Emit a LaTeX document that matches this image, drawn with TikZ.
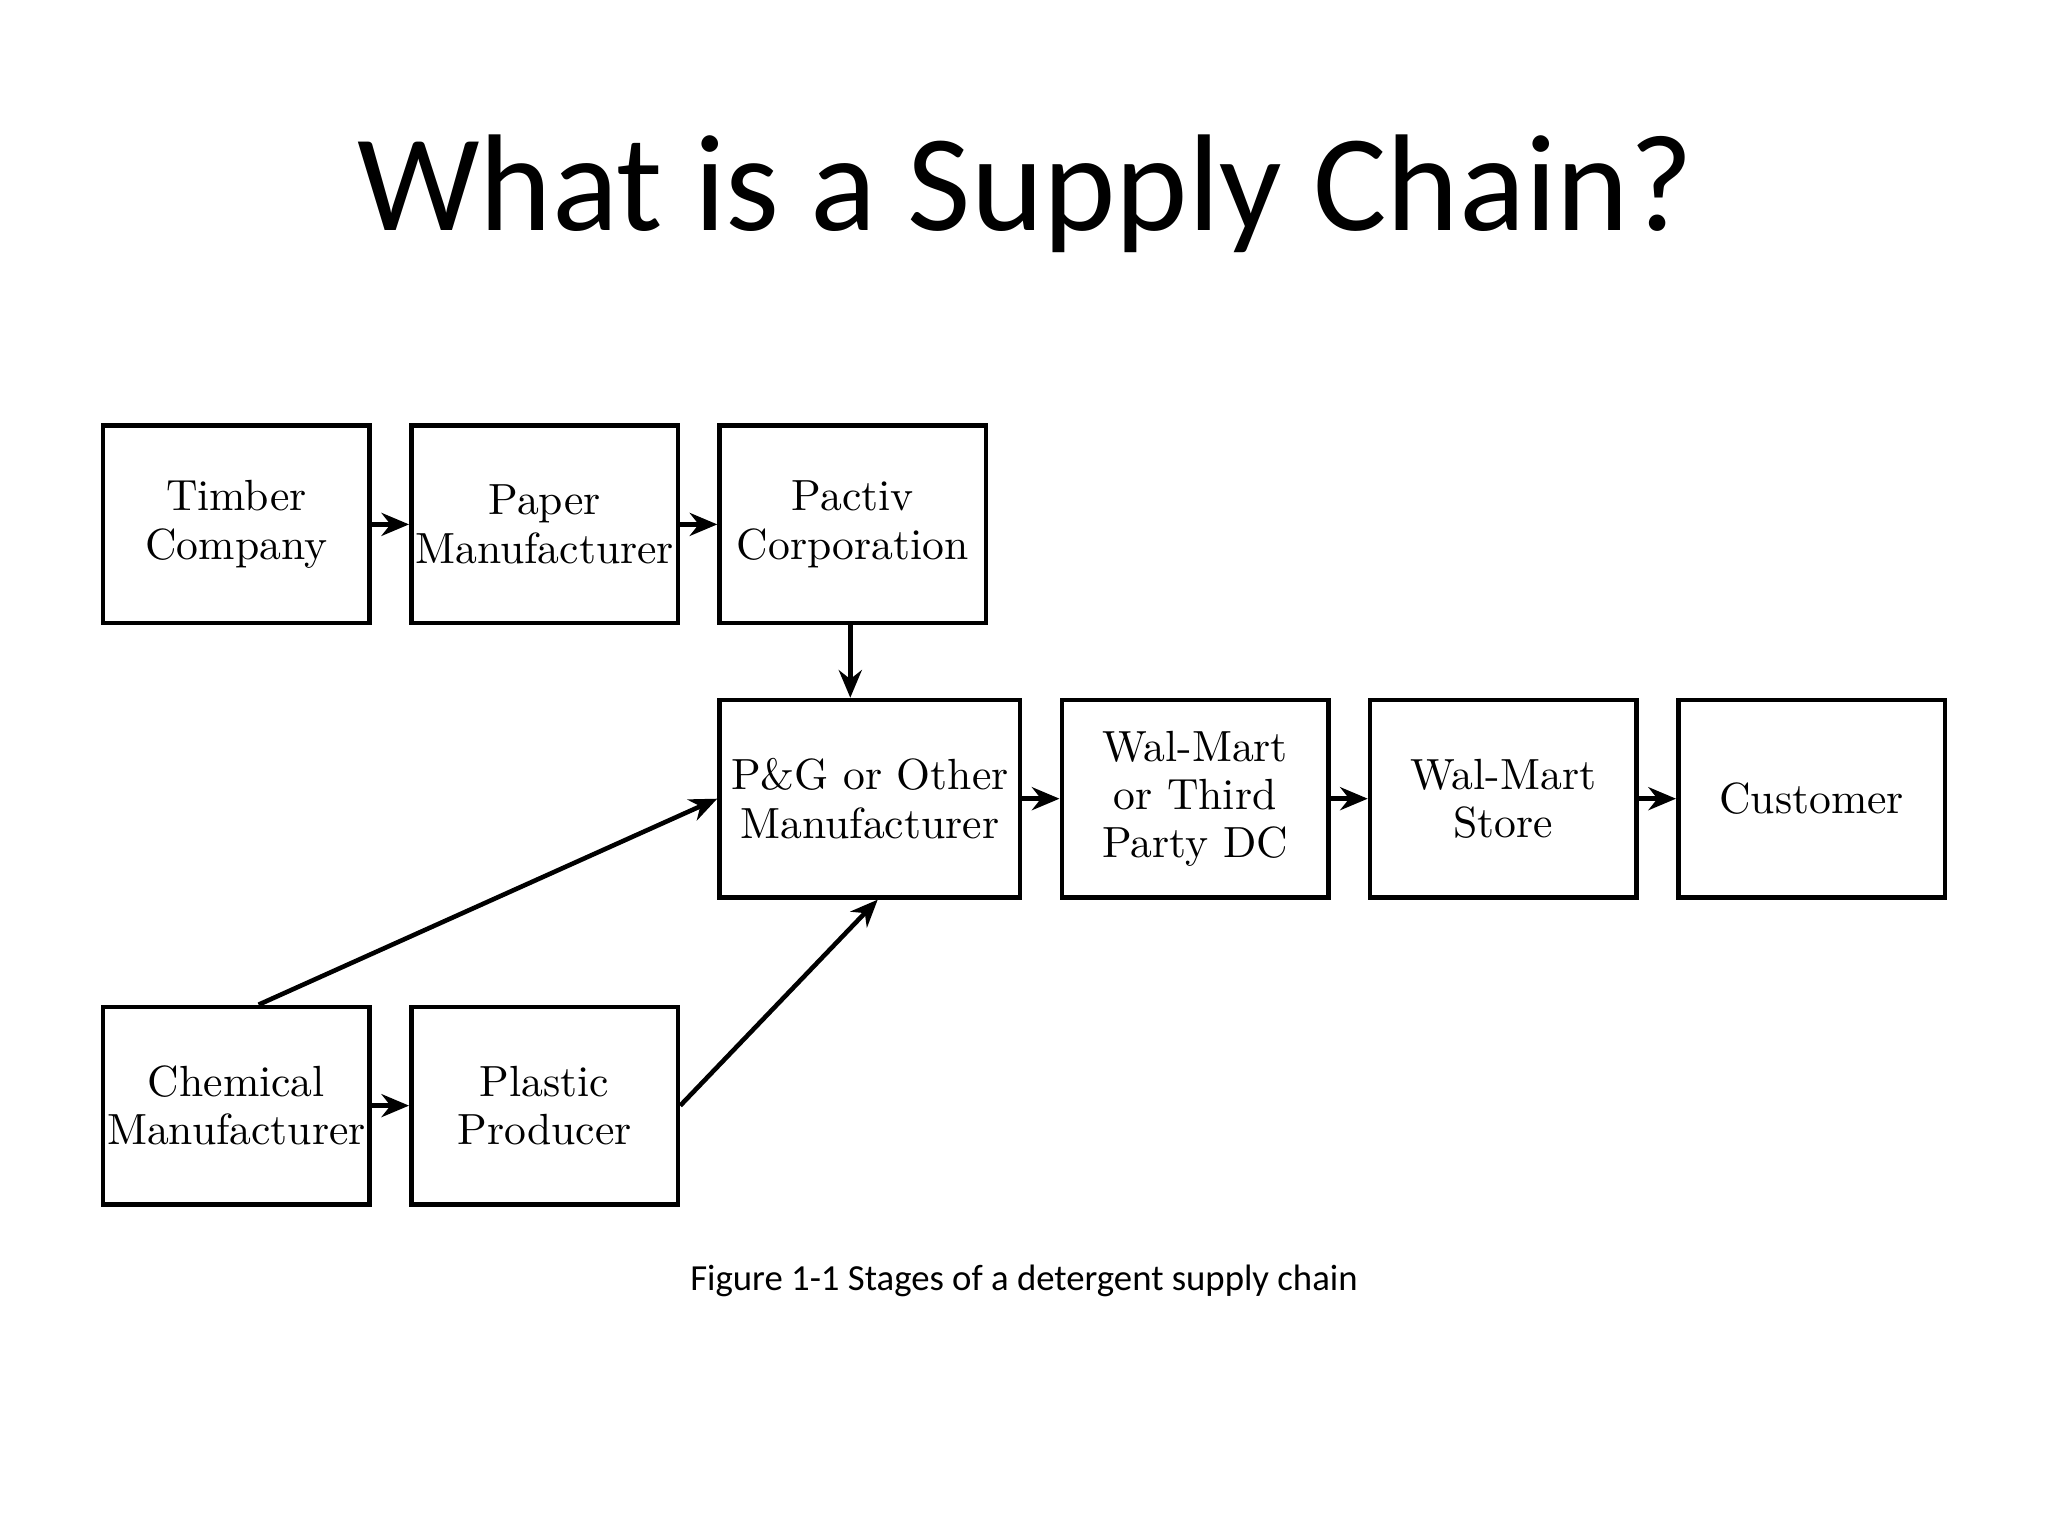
\documentclass[tikz,border=0pt]{standalone}
\usepackage{fontspec}
\newfontfamily\carlitofont{Carlito}
\usetikzlibrary{arrows.meta}
\begin{document}
\begin{tikzpicture}[x=0.01cm,y=-0.01cm,
 box/.style={draw,line width=1pt,minimum width=2.04cm,minimum height=1.51cm,inner sep=0pt,align=center,font=\fontsize{9.5}{10.5}\selectfont},
 arr/.style={line width=1pt,-{Stealth[length=6pt,width=5pt]}}]
\useasboundingbox (0,0) rectangle (1568,1176);
\node[font=\carlitofont\fontsize{30}{36}\selectfont] (title) at (785,148) {What is a Supply Chain?};
\node[box] (timber) at (181,401.5) {Timber\\Company};
\node[box] (paper) at (417,401.5) {Paper\\Manufacturer};
\node[box] (pactiv) at (653,401.5) {Pactiv\\Corporation};
\node[box,minimum width=2.3cm] (pg) at (666,611.5) {P\&G or Other\\Manufacturer};
\node[box] (dc) at (915,611.5) {Wal-Mart\\or Third\\Party DC};
\node[box] (store) at (1151,611.5) {Wal-Mart\\Store};
\node[box] (cust) at (1387,611.5) {Customer};
\node[box] (chem) at (181,846.5) {Chemical\\Manufacturer};
\node[box] (plastic) at (417,846.5) {Plastic\\Producer};
\node[font=\carlitofont\fontsize{8}{10}\selectfont] (cap) at (784,981) {Figure 1-1 Stages of a detergent supply chain};
\draw[arr] (timber) -- (paper);
\draw[arr] (paper) -- (pactiv);
\draw[arr] (pactiv.south -| 651,0) -- (pg.north -| 651,0);
\draw[arr] (pg) -- (dc);
\draw[arr] (dc) -- (store);
\draw[arr] (store) -- (cust);
\draw[arr] (chem) -- (plastic);
\draw[arr] (chem.north -| 198,0) -- (pg.west);
\draw[arr] (plastic.east) -- (pg.south -| 672,0);
\end{tikzpicture}
\end{document}
